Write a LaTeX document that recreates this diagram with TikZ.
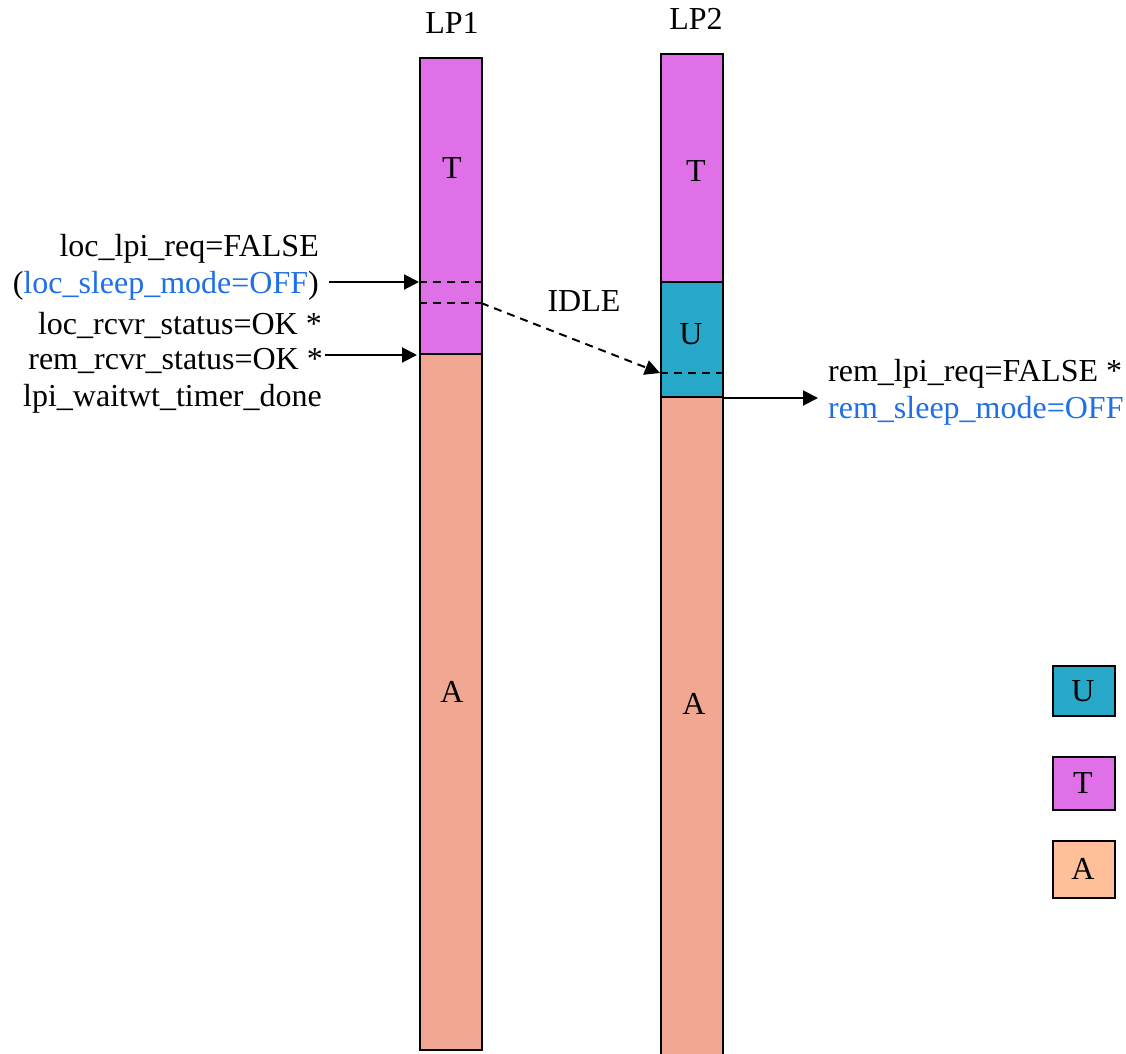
\documentclass[tikz,border=0pt]{standalone}
\usepackage{fontspec}
\setmainfont{Liberation Serif}
\usetikzlibrary{arrows.meta}
\definecolor{tcol}{HTML}{E070E8}
\definecolor{ucol}{HTML}{28A8C8}
\definecolor{acol}{HTML}{F0A893}
\definecolor{alegend}{HTML}{FFBF99}
\definecolor{bluetxt}{HTML}{1F6FE6}
\begin{document}
\begin{tikzpicture}[x=1pt,y=-1pt,
  seg/.style={draw=black, line width=2pt, rectangle, inner sep=0pt, anchor=north west},
  lbl/.style={font=\fontsize{32}{37}\selectfont, inner sep=0pt},
  arr/.style={-{Triangle[length=15pt,width=15pt]}, line width=2pt},
  dline/.style={dash pattern=on 8pt off 6pt, line width=2pt}]
\useasboundingbox (0,0) rectangle (1126,1053);
% LP1 bar
\node[seg, fill=tcol, minimum width=62pt, minimum height=296pt] (t1) at (419,57) {};
\node[seg, fill=acol, minimum width=62pt, minimum height=696pt] (a1) at (419,353) {};
% LP2 bar
\node[seg, fill=tcol, minimum width=62pt, minimum height=228pt] (t2) at (660,53) {};
\node[seg, fill=ucol, minimum width=62pt, minimum height=115pt] (u2) at (660,281) {};
\node[seg, fill=acol, minimum width=62pt, minimum height=670pt] (a2) at (660,396) {};
% labels on bars
\node[lbl, anchor=base] (lp1) at (452,33) {LP1};
\node[lbl, anchor=base] (lp2) at (696,29) {LP2};
\node[lbl, anchor=base] (lt1) at (452,178) {T};
\node[lbl, anchor=base] (lt2) at (696,181) {T};
\node[lbl, anchor=base] (lu2) at (691,344) {U};
\node[lbl, anchor=base] (la1) at (452,702) {A};
\node[lbl, anchor=base] (la2) at (694,714) {A};
\node[lbl, anchor=base] (idle) at (584,311) {IDLE};
% dashed marks
\coordinate (d1w) at (419,282); \coordinate (d1e) at (481,282);
\coordinate (d2w) at (419,303); \coordinate (d2e) at (481,303);
\coordinate (d3w) at (660,373); \coordinate (d3e) at (722,373);
\draw[dline] (d1w) -- (d1e);
\draw[dline] (d2w) -- (d2e);
\draw[dline] (d3w) -- (d3e);
% left texts
\node[lbl, anchor=base east] (llr) at (319,256) {loc\_lpi\_req=FALSE};
\node[lbl, anchor=base east] (lsm) at (319,293) {(\textcolor{bluetxt}{loc\_sleep\_mode=OFF})};
\node[lbl, anchor=base east] (lrs) at (322,334) {loc\_rcvr\_status=OK *};
\node[lbl, anchor=base east] (rrs) at (323,369) {rem\_rcvr\_status=OK *};
\node[lbl, anchor=base east] (lwt) at (322,406) {lpi\_waitwt\_timer\_done};
% right texts
\node[lbl, anchor=base west] (rlr) at (828,381) {rem\_lpi\_req=FALSE *};
\node[lbl, anchor=base west, text=bluetxt] (rsm) at (828,418) {rem\_sleep\_mode=OFF};
% arrows
\coordinate (s1) at (329,282);
\draw[arr] (s1) -- (d1w);
\draw[arr] (rrs.east |- t1.south west) ++(2,0) -- ([xshift=-2pt]t1.south west);
\draw[arr, dash pattern=on 8pt off 6pt] (d2e) -- (d3w);
\draw[arr] (u2.south east) -- ([xshift=-10pt]u2.south east -| rlr.west);
% legend
\node[seg, fill=ucol, minimum width=62pt, minimum height=50pt] (lgu) at (1052,665) {};
\node[lbl, anchor=base] (lgut) at (1083,701) {U};
\node[seg, fill=tcol, minimum width=62pt, minimum height=53pt] (lgt) at (1052,756) {};
\node[lbl, anchor=base] (lgtt) at (1083,793) {T};
\node[seg, fill=alegend, minimum width=62pt, minimum height=57pt] (lga) at (1052,840) {};
\node[lbl, anchor=base] (lgat) at (1083,879) {A};
\end{tikzpicture}
\end{document}
